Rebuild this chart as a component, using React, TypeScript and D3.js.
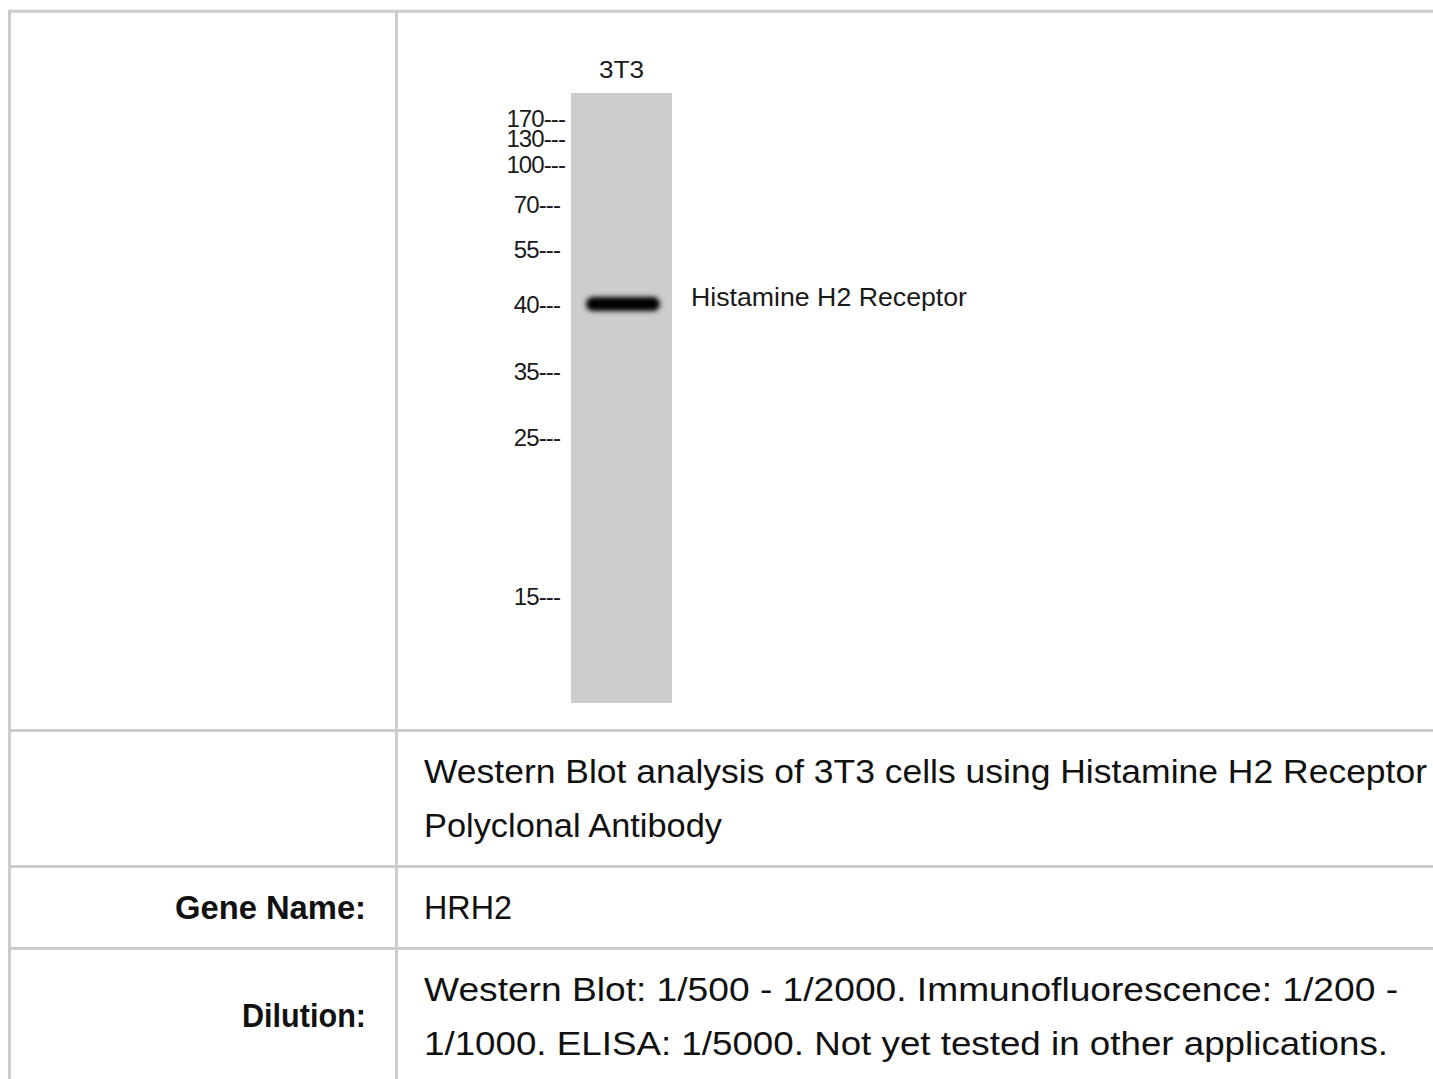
import React from 'react';
import * as d3 from 'd3';

const markerKDa = [170, 130, 100, 70, 55, 40, 35, 25, 15];
const markerRf = [0.041, 0.074, 0.118, 0.182, 0.256, 0.346, 0.456, 0.564, 0.825];

const lanes = ['3T3'];
const bandKDa = [40];
const bandLabels = ['Histamine H2 Receptor'];

const captionLines = [
  'Western Blot analysis of 3T3 cells using Histamine H2 Receptor',
  'Polyclonal Antibody',
];
const rowLabels = ['Gene Name:', 'Dilution:'];
const geneName = ['HRH2'];
const dilutionLines = [
  'Western Blot: 1/500 - 1/2000. Immunofluorescence: 1/200 -',
  '1/1000. ELISA: 1/5000. Not yet tested in other applications.',
];

const W = 1433;
const H = 1079;
const border = '#cccccc';
const font = '"Liberation Sans", Arial, sans-serif';

const App: React.FC = () => {
  // table grid
  const tableLeft = 9.5;
  const tableTop = 11.3;
  const colX = 396.5;
  const rowLines = [730.5, 866.5, 948.5];

  // blot geometry
  const laneTop = 93;
  const laneBottom = 703;
  const x = d3.scaleBand<string>().domain(lanes).range([571, 672]).padding(0);
  const rf = d3.scaleLinear().domain([0, 1]).range([laneTop, laneBottom]);
  // piecewise log scale: kDa -> migration
  const mw = d3.scaleLog().domain(markerKDa).range(markerRf);
  const y = (kda: number) => rf(mw(kda));

  const textX = 424;

  return (
    <svg
      width={W}
      height={H}
      style={{ position: 'absolute', left: 0, top: 0, background: '#fff' }}
    >
      <defs>
        <filter id="bandBlur" x="-20%" y="-100%" width="140%" height="300%">
          <feGaussianBlur stdDeviation="2.4" />
        </filter>
      </defs>

      {/* table borders */}
      <g stroke={border} strokeWidth={3} fill="none">
        <line x1={tableLeft} x2={W + 5} y1={tableTop} y2={tableTop} />
        <line x1={tableLeft} x2={tableLeft} y1={tableTop - 1.5} y2={H + 5} />
        <line x1={colX} x2={colX} y1={tableTop} y2={H + 5} />
        {rowLines.map((ry, i) => (
          <line key={i} x1={tableLeft} x2={W + 5} y1={ry} y2={ry} />
        ))}
      </g>

      {/* western blot */}
      <g fontFamily={font}>
        {lanes.map(l => (
          <g key={l}>
            <rect x={x(l)} y={laneTop} width={x.bandwidth()} height={laneBottom - laneTop} fill="#cccccc" />
            <text
              x={(x(l) ?? 0) + x.bandwidth() / 2}
              y={78}
              textAnchor="middle"
              fontSize={23}
              fill="#1a1a1a"
              textLength={45}
              lengthAdjust="spacingAndGlyphs"
            >
              {l}
            </text>
            {bandKDa.map((k, i) => (
              <rect
                key={i}
                x={(x(l) ?? 0) + 15}
                y={y(k) - 7}
                width={x.bandwidth() - 27}
                height={14}
                rx={7}
                fill="#000"
                filter="url(#bandBlur)"
              />
            ))}
          </g>
        ))}

        {markerKDa.map(k => (
          <text
            key={k}
            x={k >= 100 ? 565 : 560}
            y={y(k) + 8.5}
            textAnchor="end"
            fontSize={24}
            fill="#1a1a1a"
            letterSpacing={-0.9}
          >
            {`${k}---`}
          </text>
        ))}

        {bandKDa.map((k, i) => (
          <text
            key={i}
            x={691}
            y={y(k) + 2}
            fontSize={25}
            fill="#1a1a1a"
            textLength={276}
            lengthAdjust="spacingAndGlyphs"
          >
            {bandLabels[i]}
          </text>
        ))}
      </g>

      {/* table text */}
      <g fontFamily={font} fill="#111" fontSize={33}>
        <text x={textX} y={783} textLength={1003} lengthAdjust="spacingAndGlyphs">{captionLines[0]}</text>
        <text x={textX} y={837} textLength={298} lengthAdjust="spacingAndGlyphs">{captionLines[1]}</text>

        <text x={366} y={919} textAnchor="end" fontWeight="bold" textLength={191} lengthAdjust="spacingAndGlyphs">{rowLabels[0]}</text>
        <text x={textX} y={919} textLength={88} lengthAdjust="spacingAndGlyphs">{geneName[0]}</text>

        <text x={366} y={1027} textAnchor="end" fontWeight="bold" textLength={124} lengthAdjust="spacingAndGlyphs">{rowLabels[1]}</text>
        <text x={textX} y={1001} textLength={974} lengthAdjust="spacingAndGlyphs">{dilutionLines[0]}</text>
        <text x={textX} y={1055} textLength={964} lengthAdjust="spacingAndGlyphs">{dilutionLines[1]}</text>
      </g>
    </svg>
  );
};

export default App;
